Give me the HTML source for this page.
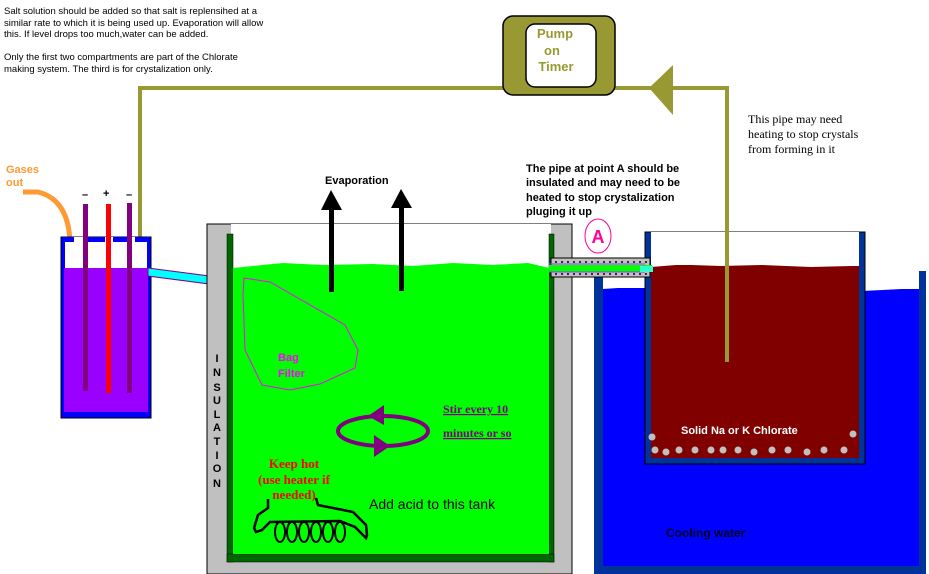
<!DOCTYPE html>
<html><head><style>body{margin:0;background:#fff}svg{display:block}</style></head><body>
<svg width="929" height="574" xmlns="http://www.w3.org/2000/svg" font-family="Liberation Sans, sans-serif">
<rect width="929" height="574" fill="#fff"/>
<g font-size="9.5" fill="#000">
<text x="4" y="14">Salt solution should be added so that salt is replensihed at a</text>
<text x="4" y="26">similar rate to which it is being used up. Evaporation will allow</text>
<text x="4" y="37">this. If level drops too much,water can be added.</text>
<text x="4" y="60">Only the first two compartments are part of the Chlorate</text>
<text x="4" y="72">making system. The third is for crystalization only.</text>
</g>
<polyline points="140,339 140,88 505,88" fill="none" stroke="#999933" stroke-width="4"/>
<polyline points="612,88 727,88 727,362" fill="none" stroke="#999933" stroke-width="4"/>
<polygon points="649,88 673,65 673,115" fill="#999933"/>
<rect x="503" y="16" width="112" height="79" rx="10" fill="#999933" stroke="#000" stroke-width="1.5"/>
<rect x="526" y="24" width="70" height="63" rx="9" fill="#fff" stroke="#000" stroke-width="1.5"/>
<g font-weight="bold" font-size="13" fill="#999933" text-anchor="middle">
<text x="555" y="38">Pump</text><text x="552" y="55">on</text><text x="556" y="71">Timer</text></g>
<g font-family="Liberation Serif, serif" font-size="12"><text x="748" y="123">This pipe may need</text><text x="748" y="138">heating to stop crystals</text><text x="748" y="153">from forming in it</text></g>
<g font-weight="bold" font-size="11"><text x="526" y="172">The pipe at point A should be</text><text x="526" y="186">insulated and may need to be</text><text x="526" y="201">heated to stop crystalization</text><text x="526" y="215">pluging it up</text></g>
<ellipse cx="598" cy="236" rx="13" ry="17" fill="#fff" stroke="#ff0099" stroke-width="1"/>
<text x="598" y="243" font-size="18" font-weight="bold" fill="#ff0099" text-anchor="middle">A</text>
<text x="6" y="173" font-size="11" font-weight="bold" fill="#ff9933">Gases</text>
<text x="6" y="186" font-size="11" font-weight="bold" fill="#ff9933">out</text>
<path d="M23,192 L38,192 Q70,200 70,246" fill="none" stroke="#ff9933" stroke-width="5"/>
<!-- left cell -->
<rect x="61" y="237" width="90" height="181" fill="#0000ff" stroke="#000"/>
<rect x="65" y="240" width="82" height="28" fill="#fff"/>
<rect x="64" y="268" width="84" height="144" fill="#9900ff"/>
<g fill="#0000ff"><rect x="62" y="237" width="12" height="5"/><rect x="87" y="237" width="18" height="5"/><rect x="113" y="237" width="14" height="5"/><rect x="135" y="237" width="15" height="5"/></g>
<g fill="#fff"><rect x="74" y="237" width="13" height="4"/><rect x="105" y="237" width="8" height="4"/><rect x="127" y="237" width="8" height="4"/></g>
<polygon points="148,268 240,280 240,288 148,276" fill="#00ffff" stroke="#800080" stroke-width="1"/>
<rect x="83" y="204" width="5" height="187" fill="#800080"/>
<rect x="106" y="204" width="5" height="189" fill="#ff0000"/>
<rect x="127" y="203" width="5" height="190" fill="#800080"/>
<g font-weight="bold" font-size="11"><text x="82" y="198">–</text><text x="103" y="197">+</text><text x="126" y="198">–</text></g>
<!-- middle tank -->
<rect x="207" y="224" width="365" height="350" fill="#c0c0c0" stroke="#000"/>
<rect x="231" y="224" width="320" height="338" fill="#fff"/>
<rect x="227" y="234" width="6" height="328" fill="#006600" stroke="#000" stroke-width="0.5"/>
<rect x="549" y="234" width="5" height="328" fill="#006600" stroke="#000" stroke-width="0.5"/>
<rect x="227" y="554" width="327" height="8" fill="#006600" stroke="#000" stroke-width="0.5"/>
<path d="M233,268 l20,-2 l30,-3 l40,2 l50,-1 l40,2 l40,-3 l40,2 l35,-2 L549,268 L549,554 L233,554Z" fill="#00ff00"/>
<g font-weight="bold" font-size="11" text-anchor="middle"><text x="217" y="362">I</text><text x="217" y="376">N</text><text x="217" y="391">S</text><text x="217" y="404">U</text><text x="217" y="418">L</text><text x="217" y="431">A</text><text x="217" y="445">T</text><text x="217" y="459">I</text><text x="217" y="472">O</text><text x="217" y="487">N</text></g>
<path d="M244,278 L270,282 L345,325 L358,350 L355,368 L320,384 L290,390 L262,385 L245,350 L243,295Z" fill="none" stroke="#ff00ff" stroke-width="1"/>
<text x="278" y="361" font-size="11" font-weight="bold" fill="#ff00ff">Bag</text>
<text x="278" y="377" font-size="11" font-weight="bold" fill="#ff00ff">Filter</text>
<text x="325" y="184" font-size="11" font-weight="bold">Evaporation</text>
<rect x="329" y="205" width="5" height="87" fill="#000"/><polygon points="331,190 321,210 342,210" fill="#000"/>
<rect x="399" y="203" width="5" height="88" fill="#000"/><polygon points="401,189 391,208 412,208" fill="#000"/>
<ellipse cx="383" cy="431" rx="45" ry="15" fill="none" stroke="#800080" stroke-width="4"/>
<polygon points="368,416 384,405 384,425" fill="#800080"/>
<polygon points="390,446 374,435 374,457" fill="#800080"/>
<g font-family="Liberation Serif, serif" font-weight="bold" font-size="12" fill="#800080" text-decoration="underline"><text x="443" y="413">Stir every 10</text><text x="443" y="437">minutes or so</text></g>
<g font-family="Liberation Serif, serif" font-weight="bold" font-size="13" fill="#ff0000" text-anchor="middle"><text x="294" y="468">Keep hot</text><text x="294" y="484">(use heater if</text><text x="294" y="499">needed)</text></g>
<text x="369" y="509" font-size="14">Add  acid  to  this  tank</text>
<path d="M268,499 L268,508 L258,515 L254,528 L256,532 L262,530 L270,522 L340,521 L355,527 L366,538 L367,535 L366,525 L353,512 L318,505 L316,498" fill="none" stroke="#000" stroke-width="2.5"/>
<g fill="none" stroke="#000" stroke-width="2"><ellipse cx="280" cy="532" rx="5" ry="10"/><ellipse cx="292" cy="532" rx="5" ry="10"/><ellipse cx="304" cy="532" rx="5" ry="10"/><ellipse cx="316" cy="532" rx="5" ry="10"/><ellipse cx="328" cy="532" rx="5" ry="10"/><ellipse cx="340" cy="532" rx="5" ry="10"/></g>
<!-- right tank -->
<rect x="594" y="274" width="9" height="300" fill="#003399"/>
<rect x="919" y="271" width="7" height="303" fill="#003399"/>
<rect x="594" y="566" width="332" height="8" fill="#003399"/>
<path d="M603,289 l15,-1 l30,0 L648,566 L603,566Z" fill="#0000ff"/>
<path d="M862,291 l40,-2 l17,0 L919,566 L862,566Z" fill="#0000ff"/>
<rect x="648" y="455" width="214" height="111" fill="#0000ff"/>
<rect x="645" y="232" width="220" height="232" fill="#003399" stroke="#000" stroke-width="1"/>
<rect x="651" y="232" width="208" height="226" fill="#fff"/>
<path d="M651,267 l25,-2 l15,0 l30,1 l40,-1 l50,2 l40,-1 L859,266 L859,458 L651,458Z" fill="#800000"/>
<text x="681" y="434" font-size="11" font-weight="bold" fill="#fff">Solid Na or K Chlorate</text>
<g fill="#c0c0c0"><circle cx="652" cy="437" r="3.5"/><circle cx="853" cy="434" r="3.5"/><circle cx="655" cy="450" r="3.5"/><circle cx="666" cy="452" r="3.5"/><circle cx="679" cy="450" r="3.5"/><circle cx="695" cy="450" r="3.5"/><circle cx="711" cy="450" r="3.5"/><circle cx="723" cy="450" r="3.5"/><circle cx="738" cy="450" r="3.5"/><circle cx="754" cy="452" r="3.5"/><circle cx="772" cy="450" r="3.5"/><circle cx="788" cy="450" r="3.5"/><circle cx="807" cy="452" r="3.5"/><circle cx="824" cy="450" r="3.5"/><circle cx="844" cy="450" r="3.5"/></g>
<text x="666" y="537" font-size="12" font-weight="bold" fill="#000022">Cooling  water</text>
<rect x="725" y="88" width="4" height="274" fill="#999933"/>
<rect x="551" y="258" width="99" height="19" fill="#c0c0c0" stroke="#000" stroke-width="1"/>
<path d="M555,262 h92 M555,274 h92" stroke="#000" stroke-width="1.5" stroke-dasharray="2,4"/>
<rect x="549" y="265" width="103" height="7" fill="#00ff00"/>
<path d="M549,264 h96 M549,272 h96" stroke="#9933ff" stroke-width="1"/>
<rect x="640" y="266" width="13" height="6" fill="#33ffcc"/>
</svg>
</body></html>
